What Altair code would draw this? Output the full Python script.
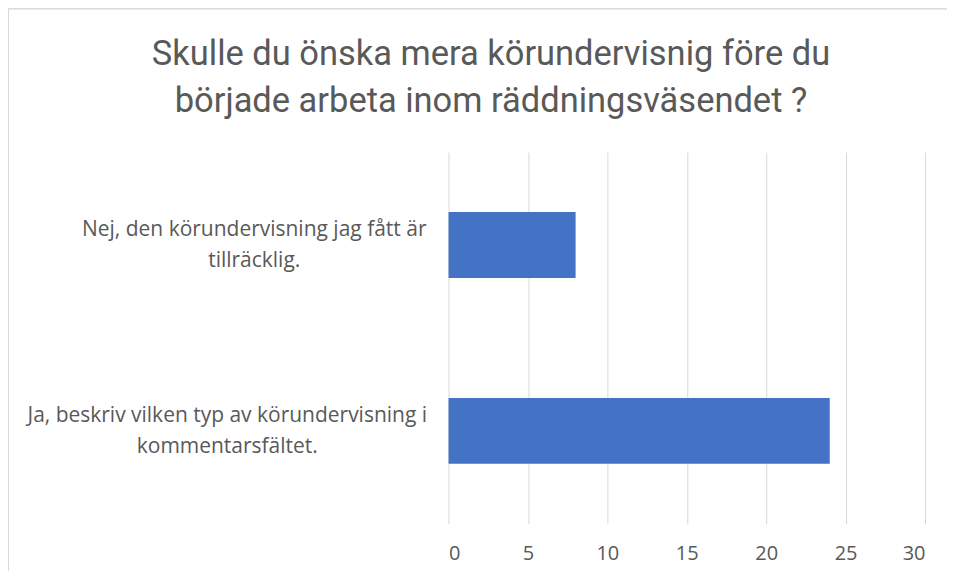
import altair as alt
import pandas as pd

categories = ["Nej, den körundervisning jag fått är tillräcklig.",
              "Ja, beskriv vilken typ av körundervisning i kommentarsfältet."]
label_lines = [["Nej, den körundervisning jag fått är", "tillräcklig."],
               ["Ja, beskriv vilken typ av körundervisning i", "kommentarsfältet."]]
values = [8, 24]
title_lines = ["Skulle du önska mera körundervisnig före du",
               "började arbeta inom räddningsväsendet ?"]

df = pd.DataFrame({"cat": categories, "val": values})

label_map = "{" + ", ".join(
    '"%s": ["%s", "%s"]' % (c, l[0], l[1]) for c, l in zip(categories, label_lines)
) + "}"

bars = alt.Chart(df).mark_bar(size=66, color="#4472C4").encode(
    x=alt.X("val:Q", scale=alt.Scale(domain=[0, 30]),
            axis=alt.Axis(values=[0, 5, 10, 15, 20, 25, 30], title=None,
                          domain=False, ticks=False, tickSize=0,
                          grid=True, gridColor="#d9d9d9", gridWidth=1,
                          labelFont="Open Sans", labelFontSize=20,
                          labelColor="#595959", labelPadding=20)),
    y=alt.Y("cat:N", sort=categories, title=None,
            axis=alt.Axis(domain=False, ticks=False, tickSize=0, grid=False,
                          labelExpr=label_map + "[datum.value]",
                          labelAlign="center", labelBaseline="middle",
                          labelFont="Open Sans", labelFontSize=21,
                          labelLineHeight=31, labelLimit=0, labelOffset=-15,
                          labelColor="#595959",
                          labelPadding=alt.condition(
                              "datum.value == '%s'" % categories[0],
                              alt.value(195), alt.value(222)))),
)

title_df = pd.DataFrame({"t": ["\n".join(title_lines)]})
title = alt.Chart(title_df).mark_text(
    align="center", baseline="alphabetic", lineBreak="\n", lineHeight=47,
    font="Roboto", fontSize=34.5, color="#595959",
).encode(text="t:N", x=alt.value(42.5), y=alt.value(-87))

frame_top = alt.Chart(df).mark_rule(color="#d9d9d9", strokeWidth=1).encode(
    x=alt.value(-441), x2=alt.value(530), y=alt.value(-143.5))
frame_left = alt.Chart(df).mark_rule(color="#d9d9d9", strokeWidth=1).encode(
    x=alt.value(-440.5), y=alt.value(-144), y2=alt.value(440))

chart = alt.layer(frame_top, frame_left, bars, title).properties(
    width=477, height=372,
    autosize=alt.AutoSizeParams(type="none"),
    padding={"left": 441, "top": 144, "right": 22, "bottom": 47},
).configure_view(stroke=None)

chart.save("out.html", embed_options={"renderer": "svg", "actions": False})
